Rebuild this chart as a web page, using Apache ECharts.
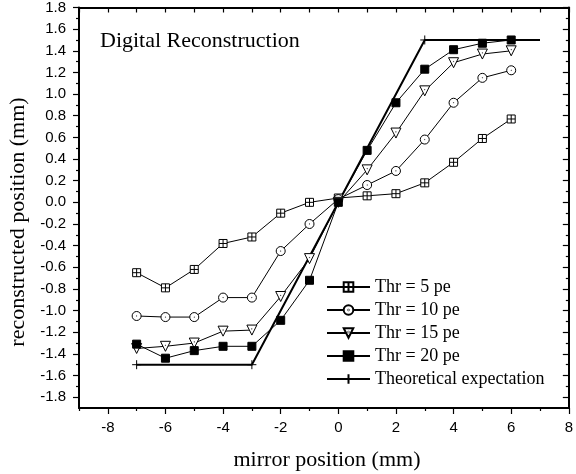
<!DOCTYPE html>
<html>
<head>
<meta charset="utf-8">
<script src="https://cdn.jsdelivr.net/npm/echarts@6/dist/echarts.min.js"></script>
<style>
  html, body { margin: 0; padding: 0; background: #fff; }
  #chart { width: 576px; height: 474px; }
</style>
</head>
<body>
<div id="chart"></div>
<script>
// Mirror positions (mm) at which each threshold was measured
const mirrorPos = [-7, -6, -5, -4, -3, -2, -1, 0, 1, 2, 3, 4, 5, 6];

// Reconstructed positions (mm) for each photo-electron threshold
const thr5  = [-0.65, -0.79, -0.62, -0.38, -0.32, -0.10, 0.00, 0.04, 0.06, 0.08, 0.18, 0.37, 0.59, 0.77];
const thr10 = [-1.05, -1.06, -1.06, -0.88, -0.88, -0.45, -0.20, 0.03, 0.16, 0.29, 0.58, 0.92, 1.15, 1.22];
const thr15 = [-1.35, -1.33, -1.30, -1.19, -1.18, -0.87, -0.52, 0.00, 0.30, 0.64, 1.03, 1.29, 1.37, 1.40];
const thr20 = [-1.31, -1.44, -1.37, -1.33, -1.33, -1.09, -0.72, 0.00, 0.48, 0.92, 1.23, 1.41, 1.47, 1.50];

// Theoretical expectation: saturates at +-1.5 mm beyond +-3 mm
const theoryX = [-7, -3, 3, 7];
const theoryY = [-1.5, -1.5, 1.5, 1.5];

const seriesNames = ['Thr = 5 pe', 'Thr = 10 pe', 'Thr = 15 pe', 'Thr = 20 pe', 'Theoretical expectation'];

// Tick and label positions
const xLabelValues = [-8, -6, -4, -2, 0, 2, 4, 6, 8];
const xMinorValues = [-9, -7, -5, -3, -1, 1, 3, 5, 7];
const yLabelValues = [-1.8, -1.6, -1.4, -1.2, -1.0, -0.8, -0.6, -0.4, -0.2, 0.0,
                      0.2, 0.4, 0.6, 0.8, 1.0, 1.2, 1.4, 1.6, 1.8];
const yMinorValues = [-1.7, -1.5, -1.3, -1.1, -0.9, -0.7, -0.5, -0.3, -0.1,
                      0.1, 0.3, 0.5, 0.7, 0.9, 1.1, 1.3, 1.5, 1.7];

const pair = (xs, ys) => xs.map((x, i) => [x, ys[i]]);

// Marker shapes
const SYM_CROSS_SQUARE = 'path://M0,0 L10,0 L10,10 L0,10 Z M5,0 L5,10 M0,5 L10,5';
const SYM_DOT_CIRCLE = 'path://M0,5 A5,5 0 1,1 10,5 A5,5 0 1,1 0,5 Z M4.8,5 A0.2,0.2 0 1,1 5.2,5 A0.2,0.2 0 1,1 4.8,5 Z';
const SYM_DOT_TRIANGLE = 'path://M0,0 L11,0 L5.5,9 Z M5.3,3.5 A0.2,0.2 0 1,1 5.7,3.5 A0.2,0.2 0 1,1 5.3,3.5 Z';
const SYM_PLUS = 'path://M5,0 L5,10 M0,5 L10,5';

const serif = '"Liberation Serif", "DejaVu Serif", serif';
const sans = '"Liberation Sans", Arial, sans-serif';

const X_MIN = -9, X_MAX = 8, Y_MIN = -1.9, Y_MAX = 1.8;

function xAxisDef(position, tickValues, tickLen, inside, showLine, showLabel) {
  return {
    type: 'value', position: position, min: X_MIN, max: X_MAX, interval: 1,
    splitLine: { show: false },
    axisLine: { show: showLine, onZero: false, lineStyle: { color: '#000', width: 2 } },
    axisTick: { show: true, inside: inside, length: tickLen, customValues: tickValues,
                lineStyle: { color: '#000', width: 1.2 } },
    axisLabel: showLabel ? {
      show: true, customValues: xLabelValues, margin: 12, color: '#000',
      fontFamily: sans, fontSize: 15, formatter: v => String(Math.round(v))
    } : { show: false }
  };
}

function yAxisDef(position, tickValues, tickLen, inside, showLine, showLabel) {
  return {
    type: 'value', position: position, min: Y_MIN, max: Y_MAX, interval: 0.1,
    splitLine: { show: false },
    axisLine: { show: showLine, onZero: false, lineStyle: { color: '#000', width: 2 } },
    axisTick: { show: true, inside: inside, length: tickLen, customValues: tickValues,
                lineStyle: { color: '#000', width: 1.2 } },
    axisLabel: showLabel ? {
      show: true, customValues: yLabelValues, margin: 13, color: '#000',
      fontFamily: sans, fontSize: 15, formatter: v => (Math.abs(v) < 1e-9 ? 0 : v).toFixed(1)
    } : { show: false }
  };
}

function lineSeries(name, data, symbol, size, fill, lineWidth) {
  return {
    name: name, type: 'line', data: data,
    xAxisIndex: 0, yAxisIndex: 0,
    symbol: symbol, symbolSize: size,
    showAllSymbol: true,
    lineStyle: { color: '#000', width: lineWidth },
    itemStyle: { color: fill, borderColor: '#000', borderWidth: 1 },
    emphasis: { disabled: true },
    animation: false
  };
}

// The expectation curve carries a marker at its knees but not at its far end
const theoryData = pair(theoryX, theoryY).map((p, i, arr) =>
  i === arr.length - 1 ? { value: p, symbol: 'none' } : p);

const chart = echarts.init(document.getElementById('chart'), null, { renderer: 'canvas' });

chart.setOption({
  backgroundColor: '#fff',
  animation: false,
  grid: { left: 79, right: 1, top: 6, bottom: 66 },
  xAxis: [
    xAxisDef('bottom', xLabelValues, 6, false, true, true),
    xAxisDef('bottom', xMinorValues, 3, false, false, false),
    xAxisDef('top', xLabelValues.concat(xMinorValues), 5, true, true, false)
  ],
  yAxis: [
    yAxisDef('left', yLabelValues, 6, false, true, true),
    yAxisDef('left', yMinorValues, 3, false, false, false),
    yAxisDef('right', yLabelValues, 6, true, true, false),
    yAxisDef('right', yMinorValues, 3, true, false, false)
  ],
  legend: {
    orient: 'vertical', left: 326, top: 278, padding: 0,
    itemWidth: 43, itemHeight: 12, itemGap: 5,
    data: seriesNames,
    textStyle: { fontFamily: serif, fontSize: 18, color: '#000' },
    selectedMode: false
  },
  graphic: [
    {
      type: 'text', left: 100, top: 30,
      style: { text: 'Digital Reconstruction', font: '22px ' + serif, fill: '#000' }
    },
    {
      type: 'text', x: 18, y: 222, rotation: Math.PI / 2,
      style: { text: 'reconstructed position (mm)', font: '22px ' + serif, fill: '#000',
               align: 'center', verticalAlign: 'middle' }
    },
    {
      type: 'text', x: 327, y: 460,
      style: { text: 'mirror position (mm)', font: '22px ' + serif, fill: '#000',
               align: 'center', verticalAlign: 'middle' }
    }
  ],
  series: [
    lineSeries(seriesNames[0], pair(mirrorPos, thr5), SYM_CROSS_SQUARE, 8, '#fff', 1),
    lineSeries(seriesNames[1], pair(mirrorPos, thr10), SYM_DOT_CIRCLE, 9, '#fff', 1),
    lineSeries(seriesNames[2], pair(mirrorPos, thr15), SYM_DOT_TRIANGLE, 10, '#fff', 1),
    lineSeries(seriesNames[3], pair(mirrorPos, thr20), 'rect', 8, '#000', 1),
    lineSeries(seriesNames[4], theoryData, SYM_PLUS, 9, 'none', 2)
  ]
});
</script>
</body>
</html>
